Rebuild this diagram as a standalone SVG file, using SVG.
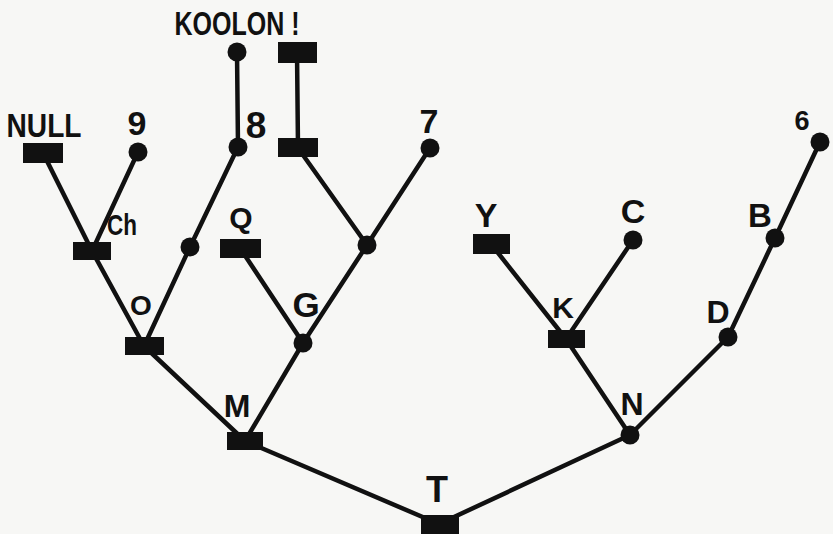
<svg xmlns="http://www.w3.org/2000/svg" width="833" height="534" viewBox="0 0 833 534">
<style>
.e{stroke:#111;stroke-width:4.5;stroke-linecap:round;fill:none}
.r{fill:#111}
.c{fill:#111}
text{font-family:"Liberation Sans","DejaVu Sans",sans-serif;font-weight:bold;fill:#111;text-anchor:middle}
</style>
<rect width="833" height="534" fill="#f7f7f5"/>
<g id="connectors">
<line class="e" x1="439" y1="524" x2="245" y2="441"/>
<line class="e" x1="439" y1="524" x2="630" y2="435"/>
<line class="e" x1="245" y1="441" x2="144" y2="346"/>
<line class="e" x1="245" y1="441" x2="303" y2="343"/>
<line class="e" x1="144" y1="346" x2="92" y2="251"/>
<line class="e" x1="144" y1="346" x2="190" y2="247"/>
<line class="e" x1="92" y1="251" x2="43" y2="153"/>
<line class="e" x1="92" y1="251" x2="138" y2="152"/>
<line class="e" x1="190" y1="247" x2="238" y2="147"/>
<line class="e" x1="238" y1="147" x2="237" y2="52"/>
<line class="e" x1="303" y1="343" x2="240" y2="248"/>
<line class="e" x1="303" y1="343" x2="367" y2="245"/>
<line class="e" x1="367" y1="245" x2="298" y2="148"/>
<line class="e" x1="367" y1="245" x2="430" y2="148"/>
<line class="e" x1="298" y1="148" x2="297" y2="52"/>
<line class="e" x1="630" y1="435" x2="566" y2="339"/>
<line class="e" x1="630" y1="435" x2="728" y2="337"/>
<line class="e" x1="566" y1="339" x2="491" y2="244"/>
<line class="e" x1="566" y1="339" x2="633" y2="240"/>
<line class="e" x1="728" y1="337" x2="775" y2="238"/>
<line class="e" x1="775" y1="238" x2="820" y2="142"/>
</g>
<g id="T"><rect class="r" x="421" y="515" width="38" height="20"/><text x="437" y="502" font-size="36">T</text></g>
<g id="M"><rect class="r" x="227" y="432" width="36" height="18"/><text x="237" y="417" font-size="32">M</text></g>
<g id="N"><circle class="c" cx="630" cy="435" r="9.5"/><text x="632" y="415" font-size="32">N</text></g>
<g id="O"><rect class="r" x="125" y="337" width="39" height="18"/><text x="141" y="315" font-size="28">O</text></g>
<g id="G"><circle class="c" cx="303" cy="343" r="9.5"/><text x="306" y="317" font-size="35">G</text></g>
<g id="K"><rect class="r" x="548" y="330" width="37" height="18"/><text x="563" y="318" font-size="30">K</text></g>
<g id="D"><circle class="c" cx="728" cy="337" r="9.5"/><text x="718" y="323" font-size="32">D</text></g>
<g id="Ch"><rect class="r" x="73" y="242" width="38" height="18"/><text x="122" y="235" font-size="30" textLength="30" lengthAdjust="spacingAndGlyphs">Ch</text></g>
<g id="n190"><circle class="c" cx="190" cy="247" r="9.5"/></g>
<g id="Q"><rect class="r" x="220" y="239" width="41" height="19"/><text x="241" y="228" font-size="30">Q</text></g>
<g id="n367"><circle class="c" cx="367" cy="245" r="9.5"/></g>
<g id="Y"><rect class="r" x="473" y="234" width="37" height="20"/><text x="486" y="227" font-size="34">Y</text></g>
<g id="C"><circle class="c" cx="633" cy="240" r="9.5"/><text x="633" y="223" font-size="34">C</text></g>
<g id="B"><circle class="c" cx="775" cy="238" r="9.5"/><text x="760" y="227" font-size="33">B</text></g>
<g id="NULL"><rect class="r" x="23" y="143" width="40" height="20"/><text x="44" y="137" font-size="34" textLength="75" lengthAdjust="spacingAndGlyphs">NULL</text></g>
<g id="n9"><circle class="c" cx="138" cy="152" r="9.5"/><text x="137" y="135" font-size="34">9</text></g>
<g id="n8"><circle class="c" cx="238" cy="147" r="9.5"/><text x="256" y="138" font-size="37">8</text></g>
<g id="R298"><rect class="r" x="278" y="138" width="40" height="19"/></g>
<g id="n7"><circle class="c" cx="430" cy="148" r="9.5"/><text x="429" y="133" font-size="34">7</text></g>
<g id="n6"><circle class="c" cx="820" cy="142" r="9.5"/><text x="802" y="130" font-size="27">6</text></g>
<g id="KOOLON"><circle class="c" cx="237" cy="52" r="9.5"/><text x="237" y="35" font-size="34" textLength="125" lengthAdjust="spacingAndGlyphs">KOOLON !</text></g>
<g id="R297"><rect class="r" x="278" y="42" width="39" height="21"/></g>
</svg>
